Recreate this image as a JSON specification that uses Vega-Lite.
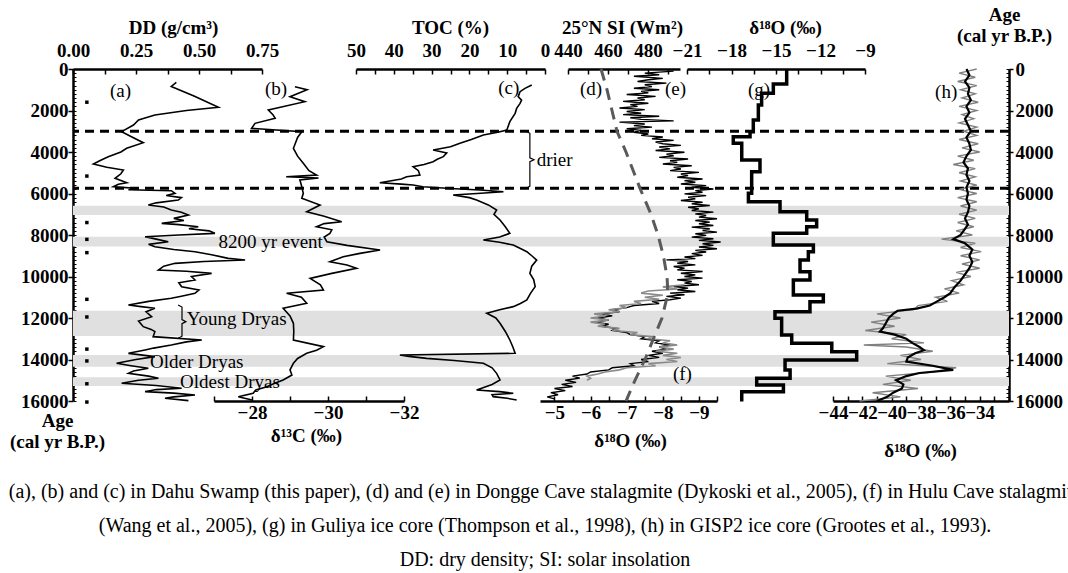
{
  "$schema": "https://vega.github.io/schema/vega-lite/v6.json",
  "width": 936,
  "height": 332,
  "autosize": {"type": "none"},
  "padding": {"left": 73, "top": 69, "right": 59, "bottom": 172},
  "background": "white",
  "title": {
    "text": [
      "(a), (b) and (c) in Dahu Swamp (this paper), (d) and (e) in Dongge Cave stalagmite (Dykoski et al., 2005), (f) in Hulu Cave stalagmite",
      "(Wang et al., 2005), (g) in Guliya ice core (Thompson et al., 1998), (h) in GISP2 ice core (Grootes et al., 1993).",
      "DD: dry density; SI: solar insolation"
    ],
    "orient": "bottom",
    "anchor": "middle",
    "frame": "group",
    "font": "Liberation Serif",
    "fontSize": 20,
    "fontWeight": "normal",
    "color": "black",
    "lineHeight": 34,
    "offset": 22,
    "dx": 4
  },
  "config": {
    "view": {"stroke": null},
    "axis": {
      "grid": false,
      "domainColor": "black",
      "domainWidth": 2.5,
      "tickColor": "black",
      "tickWidth": 1.5,
      "labelFont": "Liberation Serif",
      "labelFontSize": 19,
      "labelFontWeight": "bold",
      "labelColor": "black",
      "titleFont": "Liberation Serif",
      "titleFontSize": 19,
      "titleFontWeight": "bold",
      "titleColor": "black",
      "labelFlush": false,
      "labelOverlap": false,
      "labelBound": false
    },
    "text": {"font": "Liberation Serif", "fontSize": 19, "color": "black"}
  },
  "resolve": {
    "scale": {"x": "independent", "y": "shared"},
    "axis": {"x": "independent", "y": "independent"}
  },
  "datasets": {
    "bands": [
      {"start": 6590, "end": 7040},
      {"start": 8080, "end": 8560},
      {"start": 11650, "end": 12870},
      {"start": 13780, "end": 14350},
      {"start": 14860, "end": 15280}
    ],
    "events": [{"age": 3000}, {"age": 5750}],
    "dates": [
      {"age": 1600}, {"age": 5160}, {"age": 7400}, {"age": 8210}, {"age": 8850},
      {"age": 11100}, {"age": 11950}, {"age": 13500}, {"age": 14070}, {"age": 15170}, {"age": 16050}
    ],
    "dd": [
      {"age": 650, "v": 0.41}, {"age": 843, "v": 0.39}, {"age": 1300, "v": 0.48}, {"age": 1847, "v": 0.577},
      {"age": 2000, "v": 0.45}, {"age": 2218, "v": 0.325}, {"age": 2458, "v": 0.26}, {"age": 2700, "v": 0.24},
      {"age": 3020, "v": 0.193}, {"age": 3250, "v": 0.23}, {"age": 3550, "v": 0.279}, {"age": 3823, "v": 0.213},
      {"age": 4000, "v": 0.19}, {"age": 4225, "v": 0.14}, {"age": 4400, "v": 0.11}, {"age": 4578, "v": 0.081},
      {"age": 4739, "v": 0.134}, {"age": 4868, "v": 0.2}, {"age": 5050, "v": 0.19}, {"age": 5270, "v": 0.167},
      {"age": 5479, "v": 0.213}, {"age": 5550, "v": 0.18}, {"age": 5672, "v": 0.16}, {"age": 5752, "v": 0.253},
      {"age": 5820, "v": 0.22}, {"age": 5864, "v": 0.39}, {"age": 5993, "v": 0.405}, {"age": 6100, "v": 0.37},
      {"age": 6200, "v": 0.43}, {"age": 6314, "v": 0.418}, {"age": 6450, "v": 0.33}, {"age": 6555, "v": 0.299},
      {"age": 6650, "v": 0.36}, {"age": 6796, "v": 0.39}, {"age": 6900, "v": 0.43}, {"age": 7037, "v": 0.458},
      {"age": 7200, "v": 0.40}, {"age": 7300, "v": 0.44}, {"age": 7438, "v": 0.352}, {"age": 7500, "v": 0.42},
      {"age": 7599, "v": 0.497}, {"age": 7700, "v": 0.46}, {"age": 7800, "v": 0.54}, {"age": 7920, "v": 0.563},
      {"age": 8000, "v": 0.42}, {"age": 8081, "v": 0.286}, {"age": 8200, "v": 0.33}, {"age": 8322, "v": 0.378},
      {"age": 8450, "v": 0.30}, {"age": 8563, "v": 0.325}, {"age": 8700, "v": 0.40}, {"age": 8804, "v": 0.484},
      {"age": 8950, "v": 0.55}, {"age": 9125, "v": 0.616}, {"age": 9206, "v": 0.683}, {"age": 9280, "v": 0.52},
      {"age": 9366, "v": 0.405}, {"age": 9500, "v": 0.36}, {"age": 9687, "v": 0.339}, {"age": 9750, "v": 0.45},
      {"age": 9848, "v": 0.55}, {"age": 10000, "v": 0.47}, {"age": 10169, "v": 0.484}, {"age": 10300, "v": 0.42},
      {"age": 10490, "v": 0.431}, {"age": 10650, "v": 0.50}, {"age": 10811, "v": 0.484}, {"age": 10950, "v": 0.43},
      {"age": 11052, "v": 0.39}, {"age": 11200, "v": 0.30}, {"age": 11373, "v": 0.22}, {"age": 11450, "v": 0.27},
      {"age": 11534, "v": 0.325}, {"age": 11700, "v": 0.29}, {"age": 11935, "v": 0.312}, {"age": 12150, "v": 0.26},
      {"age": 12417, "v": 0.279}, {"age": 12550, "v": 0.31}, {"age": 12658, "v": 0.325}, {"age": 12899, "v": 0.318},
      {"age": 13060, "v": 0.511}, {"age": 13150, "v": 0.45}, {"age": 13301, "v": 0.39}, {"age": 13450, "v": 0.32},
      {"age": 13542, "v": 0.286}, {"age": 13703, "v": 0.22}, {"age": 13863, "v": 0.325}, {"age": 14000, "v": 0.25},
      {"age": 14184, "v": 0.173}, {"age": 14300, "v": 0.23}, {"age": 14425, "v": 0.299}, {"age": 14550, "v": 0.24},
      {"age": 14666, "v": 0.22}, {"age": 14800, "v": 0.30}, {"age": 14907, "v": 0.339}, {"age": 15000, "v": 0.26},
      {"age": 15148, "v": 0.193}, {"age": 15250, "v": 0.33}, {"age": 15389, "v": 0.431}, {"age": 15450, "v": 0.33},
      {"age": 15550, "v": 0.286}, {"age": 15620, "v": 0.40}, {"age": 15711, "v": 0.484}, {"age": 15800, "v": 0.40},
      {"age": 15871, "v": 0.365}, {"age": 15984, "v": 0.458}
    ],
    "c13": [
      {"age": 851, "v": -29.13}, {"age": 1000, "v": -29.45}, {"age": 1333, "v": -29.0}, {"age": 1574, "v": -29.39},
      {"age": 1976, "v": -28.43}, {"age": 2200, "v": -28.55}, {"age": 2378, "v": -28.61}, {"age": 2619, "v": -28.08},
      {"age": 2860, "v": -27.99}, {"age": 3020, "v": -29.31}, {"age": 3300, "v": -29.2}, {"age": 3823, "v": -29.09},
      {"age": 4200, "v": -29.2}, {"age": 4546, "v": -29.35}, {"age": 4900, "v": -29.5}, {"age": 5109, "v": -29.7},
      {"age": 5190, "v": -28.9}, {"age": 5250, "v": -29.75}, {"age": 5350, "v": -29.26}, {"age": 5600, "v": -29.3},
      {"age": 5993, "v": -29.35}, {"age": 6234, "v": -29.31}, {"age": 6555, "v": -29.79}, {"age": 6876, "v": -29.44},
      {"age": 7100, "v": -29.9}, {"age": 7358, "v": -30.36}, {"age": 7450, "v": -29.9}, {"age": 7599, "v": -29.7},
      {"age": 7750, "v": -30.1}, {"age": 7920, "v": -30.05}, {"age": 8100, "v": -29.9}, {"age": 8322, "v": -29.97},
      {"age": 8500, "v": -30.5}, {"age": 8724, "v": -31.37}, {"age": 8884, "v": -30.84}, {"age": 9050, "v": -30.4},
      {"age": 9286, "v": -30.05}, {"age": 9450, "v": -30.5}, {"age": 9607, "v": -30.75}, {"age": 9850, "v": -30.1},
      {"age": 10089, "v": -29.53}, {"age": 10400, "v": -29.8}, {"age": 10651, "v": -29.88}, {"age": 10811, "v": -28.91},
      {"age": 11000, "v": -29.3}, {"age": 11293, "v": -29.44}, {"age": 11534, "v": -28.82}, {"age": 11900, "v": -29.0},
      {"age": 12256, "v": -29.09}, {"age": 12650, "v": -29.1}, {"age": 13060, "v": -29.09}, {"age": 13381, "v": -29.88},
      {"age": 13550, "v": -29.7}, {"age": 13703, "v": -29.44}, {"age": 13950, "v": -29.2}, {"age": 14184, "v": -29.09},
      {"age": 14500, "v": -29.0}, {"age": 14750, "v": -29.05}, {"age": 14987, "v": -28.82}, {"age": 15150, "v": -28.6},
      {"age": 15310, "v": -28.39}, {"age": 15470, "v": -28.1}, {"age": 15630, "v": -28.03}, {"age": 15791, "v": -27.64},
      {"age": 15951, "v": -28.0}
    ],
    "toc": [
      {"age": 771, "v": 3.5}, {"age": 932, "v": 5.3}, {"age": 1092, "v": 6.6}, {"age": 1333, "v": 7.1},
      {"age": 1500, "v": 6.2}, {"age": 1654, "v": 6.6}, {"age": 1900, "v": 7.5}, {"age": 2136, "v": 7.9},
      {"age": 2538, "v": 9.3}, {"age": 2940, "v": 10.1}, {"age": 3050, "v": 12.5}, {"age": 3181, "v": 16.3},
      {"age": 3400, "v": 19.5}, {"age": 3582, "v": 22.5}, {"age": 3750, "v": 25}, {"age": 3903, "v": 29.6},
      {"age": 4050, "v": 26}, {"age": 4225, "v": 26.9}, {"age": 4350, "v": 28.5}, {"age": 4466, "v": 29.6},
      {"age": 4600, "v": 32}, {"age": 4707, "v": 34.9}, {"age": 4900, "v": 33.5}, {"age": 5109, "v": 33.1},
      {"age": 5190, "v": 36.6}, {"age": 5300, "v": 38}, {"age": 5479, "v": 43.7}, {"age": 5550, "v": 38},
      {"age": 5591, "v": 34.9}, {"age": 5672, "v": 32.3}, {"age": 5760, "v": 25}, {"age": 5832, "v": 17.2},
      {"age": 5912, "v": 11.0}, {"age": 6000, "v": 18}, {"age": 6073, "v": 24.3}, {"age": 6200, "v": 20},
      {"age": 6314, "v": 18.1}, {"age": 6550, "v": 15}, {"age": 6796, "v": 12.8}, {"age": 7000, "v": 13.5},
      {"age": 7278, "v": 11.9}, {"age": 7600, "v": 10.5}, {"age": 7920, "v": 9.3}, {"age": 8100, "v": 12},
      {"age": 8242, "v": 16.3}, {"age": 8350, "v": 12}, {"age": 8483, "v": 8.4}, {"age": 8650, "v": 6.5},
      {"age": 8804, "v": 4.8}, {"age": 9000, "v": 3.5}, {"age": 9206, "v": 2.2}, {"age": 9500, "v": 3.5},
      {"age": 9848, "v": 4.0}, {"age": 10150, "v": 3.0}, {"age": 10490, "v": 2.6}, {"age": 10800, "v": 3.8},
      {"age": 11132, "v": 4.8}, {"age": 11300, "v": 6.5}, {"age": 11453, "v": 8.4}, {"age": 11600, "v": 12},
      {"age": 11775, "v": 15.4}, {"age": 12000, "v": 13}, {"age": 12256, "v": 11.9}, {"age": 12650, "v": 10.5},
      {"age": 13060, "v": 9.3}, {"age": 13400, "v": 8.5}, {"age": 13703, "v": 7.9}, {"age": 13783, "v": 38.4},
      {"age": 13850, "v": 36}, {"age": 13944, "v": 31.3}, {"age": 14050, "v": 24}, {"age": 14184, "v": 16.3},
      {"age": 14400, "v": 14}, {"age": 14666, "v": 12.8}, {"age": 14987, "v": 11.9}, {"age": 15200, "v": 14},
      {"age": 15470, "v": 18.1}, {"age": 15550, "v": 12}, {"age": 15630, "v": 8.4}, {"age": 15700, "v": 14},
      {"age": 15791, "v": 13.7}, {"age": 15870, "v": 10}, {"age": 15951, "v": 7.5}
    ],
    "dongge": [
      {"age": 100, "v": -8.3}, {"age": 200, "v": -7.5}, {"age": 280, "v": -7.9}, {"age": 350, "v": -7.2},
      {"age": 450, "v": -8.0}, {"age": 520, "v": -7.6}, {"age": 600, "v": -7.3}, {"age": 680, "v": -8.1},
      {"age": 760, "v": -7.5}, {"age": 850, "v": -7.7}, {"age": 930, "v": -7.2}, {"age": 1000, "v": -7.9},
      {"age": 1080, "v": -7.4}, {"age": 1150, "v": -7.6}, {"age": 1230, "v": -7.0}, {"age": 1320, "v": -7.8},
      {"age": 1400, "v": -7.3}, {"age": 1480, "v": -7.5}, {"age": 1560, "v": -6.9}, {"age": 1650, "v": -7.6},
      {"age": 1720, "v": -7.1}, {"age": 1800, "v": -7.3}, {"age": 1880, "v": -6.8}, {"age": 1960, "v": -7.5},
      {"age": 2050, "v": -7.0}, {"age": 2130, "v": -7.4}, {"age": 2200, "v": -6.9}, {"age": 2280, "v": -7.9},
      {"age": 2350, "v": -7.1}, {"age": 2430, "v": -7.4}, {"age": 2500, "v": -8.3}, {"age": 2560, "v": -6.8},
      {"age": 2650, "v": -7.5}, {"age": 2730, "v": -7.2}, {"age": 2800, "v": -7.7}, {"age": 2880, "v": -7.0},
      {"age": 2960, "v": -7.4}, {"age": 3050, "v": -7.2}, {"age": 3130, "v": -7.6}, {"age": 3200, "v": -7.4},
      {"age": 3280, "v": -8.0}, {"age": 3360, "v": -7.7}, {"age": 3440, "v": -8.3}, {"age": 3520, "v": -7.8},
      {"age": 3600, "v": -8.0}, {"age": 3680, "v": -8.5}, {"age": 3760, "v": -7.9}, {"age": 3850, "v": -8.2},
      {"age": 3930, "v": -7.8}, {"age": 4010, "v": -8.6}, {"age": 4100, "v": -8.1}, {"age": 4180, "v": -8.3},
      {"age": 4260, "v": -7.9}, {"age": 4340, "v": -8.7}, {"age": 4420, "v": -8.2}, {"age": 4500, "v": -8.4},
      {"age": 4580, "v": -8.0}, {"age": 4660, "v": -8.8}, {"age": 4740, "v": -8.3}, {"age": 4820, "v": -8.5},
      {"age": 4900, "v": -8.2}, {"age": 4980, "v": -9.0}, {"age": 5060, "v": -8.5}, {"age": 5140, "v": -8.7},
      {"age": 5220, "v": -8.4}, {"age": 5300, "v": -9.1}, {"age": 5380, "v": -8.6}, {"age": 5460, "v": -8.9},
      {"age": 5540, "v": -8.5}, {"age": 5620, "v": -9.2}, {"age": 5700, "v": -8.8}, {"age": 5780, "v": -9.4},
      {"age": 5860, "v": -8.9}, {"age": 5940, "v": -9.1}, {"age": 6020, "v": -8.6}, {"age": 6100, "v": -9.2},
      {"age": 6180, "v": -8.7}, {"age": 6260, "v": -8.9}, {"age": 6340, "v": -8.5}, {"age": 6420, "v": -9.1},
      {"age": 6500, "v": -8.8}, {"age": 6580, "v": -9.3}, {"age": 6660, "v": -8.7}, {"age": 6740, "v": -9.0},
      {"age": 6820, "v": -8.8}, {"age": 6900, "v": -9.4}, {"age": 6980, "v": -8.9}, {"age": 7060, "v": -9.2},
      {"age": 7140, "v": -9.0}, {"age": 7220, "v": -9.5}, {"age": 7300, "v": -8.9}, {"age": 7380, "v": -9.3},
      {"age": 7460, "v": -9.0}, {"age": 7540, "v": -9.4}, {"age": 7620, "v": -8.8}, {"age": 7700, "v": -9.3},
      {"age": 7780, "v": -9.1}, {"age": 7860, "v": -9.5}, {"age": 7940, "v": -8.9}, {"age": 8020, "v": -9.2},
      {"age": 8100, "v": -8.8}, {"age": 8180, "v": -9.4}, {"age": 8260, "v": -9.0}, {"age": 8340, "v": -9.6},
      {"age": 8420, "v": -9.1}, {"age": 8500, "v": -9.4}, {"age": 8580, "v": -9.0}, {"age": 8660, "v": -9.5},
      {"age": 8740, "v": -8.9}, {"age": 8820, "v": -9.2}, {"age": 8900, "v": -8.8}, {"age": 8980, "v": -9.1},
      {"age": 9060, "v": -8.6}, {"age": 9140, "v": -8.9}, {"age": 9200, "v": -8.1}, {"age": 9280, "v": -8.7},
      {"age": 9360, "v": -8.4}, {"age": 9440, "v": -8.9}, {"age": 9520, "v": -8.3}, {"age": 9600, "v": -8.6},
      {"age": 9680, "v": -8.4}, {"age": 9760, "v": -9.1}, {"age": 9840, "v": -8.5}, {"age": 9920, "v": -8.9},
      {"age": 10000, "v": -8.6}, {"age": 10080, "v": -9.1}, {"age": 10160, "v": -8.4}, {"age": 10240, "v": -8.8},
      {"age": 10320, "v": -8.6}, {"age": 10400, "v": -9.0}, {"age": 10480, "v": -8.3}, {"age": 10560, "v": -8.7},
      {"age": 10640, "v": -8.4}, {"age": 10720, "v": -8.9}, {"age": 10800, "v": -8.2}, {"age": 10880, "v": -8.6},
      {"age": 10960, "v": -8.1}, {"age": 11040, "v": -8.5}, {"age": 11120, "v": -8.2}, {"age": 11200, "v": -7.7},
      {"age": 11300, "v": -7.9}, {"age": 11400, "v": -7.2}, {"age": 11500, "v": -7.0}, {"age": 11600, "v": -6.6},
      {"age": 11700, "v": -6.8}, {"age": 11800, "v": -6.3}, {"age": 11900, "v": -6.6}, {"age": 12000, "v": -6.2},
      {"age": 12100, "v": -6.5}, {"age": 12200, "v": -6.1}, {"age": 12300, "v": -6.5}, {"age": 12400, "v": -6.3},
      {"age": 12500, "v": -6.7}, {"age": 12600, "v": -6.6}, {"age": 12700, "v": -7.0}, {"age": 12800, "v": -7.1},
      {"age": 12900, "v": -7.5}, {"age": 13000, "v": -7.4}, {"age": 13100, "v": -7.9}, {"age": 13200, "v": -7.8},
      {"age": 13300, "v": -8.2}, {"age": 13400, "v": -7.9}, {"age": 13500, "v": -8.1}, {"age": 13600, "v": -7.7},
      {"age": 13700, "v": -8.0}, {"age": 13800, "v": -7.6}, {"age": 13900, "v": -7.9}, {"age": 14000, "v": -7.4},
      {"age": 14100, "v": -7.6}, {"age": 14200, "v": -7.1}, {"age": 14300, "v": -7.2}, {"age": 14400, "v": -6.6},
      {"age": 14500, "v": -6.5}, {"age": 14600, "v": -6.0}, {"age": 14700, "v": -5.9}, {"age": 14800, "v": -5.5},
      {"age": 14900, "v": -5.7}, {"age": 15000, "v": -5.3}, {"age": 15100, "v": -5.6}, {"age": 15200, "v": -5.2},
      {"age": 15300, "v": -5.5}, {"age": 15400, "v": -5.0}, {"age": 15500, "v": -5.3}, {"age": 15600, "v": -4.9},
      {"age": 15700, "v": -5.1}, {"age": 15800, "v": -4.8}, {"age": 15900, "v": -5.0}
    ],
    "hulu": [
      {"age": 10400, "v": -8.6}, {"age": 10500, "v": -8.0}, {"age": 10600, "v": -8.4}, {"age": 10700, "v": -7.6},
      {"age": 10800, "v": -7.4}, {"age": 10900, "v": -8.0}, {"age": 11000, "v": -7.5}, {"age": 11100, "v": -7.9},
      {"age": 11200, "v": -7.2}, {"age": 11300, "v": -7.4}, {"age": 11400, "v": -6.8}, {"age": 11500, "v": -7.0},
      {"age": 11600, "v": -6.5}, {"age": 11700, "v": -6.8}, {"age": 11800, "v": -6.1}, {"age": 11900, "v": -6.4},
      {"age": 12000, "v": -6.0}, {"age": 12100, "v": -6.5}, {"age": 12200, "v": -6.0}, {"age": 12300, "v": -6.4},
      {"age": 12400, "v": -6.2}, {"age": 12500, "v": -6.8}, {"age": 12600, "v": -6.6}, {"age": 12700, "v": -7.3},
      {"age": 12800, "v": -7.1}, {"age": 12900, "v": -7.7}, {"age": 13000, "v": -7.6}, {"age": 13100, "v": -8.2},
      {"age": 13200, "v": -8.0}, {"age": 13300, "v": -8.4}, {"age": 13400, "v": -7.9}, {"age": 13500, "v": -8.3},
      {"age": 13600, "v": -7.8}, {"age": 13700, "v": -8.4}, {"age": 13800, "v": -8.0}, {"age": 13900, "v": -8.5},
      {"age": 14000, "v": -8.1}, {"age": 14100, "v": -8.4}, {"age": 14200, "v": -7.6}, {"age": 14300, "v": -7.8},
      {"age": 14400, "v": -7.0}, {"age": 14500, "v": -6.8}, {"age": 14600, "v": -6.4}, {"age": 14700, "v": -6.2},
      {"age": 14800, "v": -5.9}, {"age": 14900, "v": -6.0}, {"age": 15000, "v": -5.9}
    ],
    "si": [
      {"age": 0, "v": 456.5}, {"age": 1000, "v": 459.5}, {"age": 2000, "v": 462}, {"age": 3000, "v": 464.5},
      {"age": 4000, "v": 469}, {"age": 5000, "v": 473}, {"age": 5750, "v": 476}, {"age": 7000, "v": 481.5},
      {"age": 8000, "v": 485}, {"age": 9000, "v": 487.7}, {"age": 10000, "v": 489.5}, {"age": 10500, "v": 489.8},
      {"age": 11000, "v": 489.5}, {"age": 12000, "v": 487}, {"age": 13000, "v": 482.7}, {"age": 14000, "v": 478.5},
      {"age": 14500, "v": 476}, {"age": 15000, "v": 473.5}, {"age": 16000, "v": 469}
    ],
    "guliya": [
      {"age": 0, "v": -14.28}, {"age": 723, "v": -15.18}, {"age": 1173, "v": -15.97}, {"age": 1735, "v": -16.19},
      {"age": 2458, "v": -16.53}, {"age": 3020, "v": -16.75}, {"age": 3261, "v": -17.88}, {"age": 3582, "v": -17.31},
      {"age": 4385, "v": -16.08}, {"age": 4948, "v": -16.64}, {"age": 5993, "v": -16.86}, {"age": 6394, "v": -14.73},
      {"age": 6876, "v": -12.93}, {"age": 7278, "v": -12.26}, {"age": 7599, "v": -12.93}, {"age": 7920, "v": -15.18},
      {"age": 8483, "v": -12.48}, {"age": 8804, "v": -12.82}, {"age": 9206, "v": -13.38}, {"age": 9768, "v": -12.71},
      {"age": 10169, "v": -13.83}, {"age": 10892, "v": -11.81}, {"age": 11213, "v": -12.71}, {"age": 11695, "v": -15.07},
      {"age": 12016, "v": -14.62}, {"age": 12819, "v": -13.94}, {"age": 13220, "v": -11.24}, {"age": 13622, "v": -9.56},
      {"age": 14024, "v": -14.39}, {"age": 14505, "v": -14.05}, {"age": 14907, "v": -16.3}, {"age": 15229, "v": -14.5},
      {"age": 15550, "v": -17.31}, {"age": 16030, "v": -17.31}
    ],
    "gisp_raw": [
      {"age": 0, "v": -34.2}, {"age": 200, "v": -35.4}, {"age": 400, "v": -34.3}, {"age": 600, "v": -35.5},
      {"age": 800, "v": -34.2}, {"age": 1000, "v": -35.3}, {"age": 1200, "v": -34.3}, {"age": 1400, "v": -35.2},
      {"age": 1600, "v": -34.1}, {"age": 1800, "v": -35.4}, {"age": 2000, "v": -34.2}, {"age": 2200, "v": -35.2},
      {"age": 2400, "v": -34.4}, {"age": 2600, "v": -35.4}, {"age": 2800, "v": -34.2}, {"age": 3000, "v": -35.1},
      {"age": 3200, "v": -34.2}, {"age": 3400, "v": -35.4}, {"age": 3600, "v": -34.1}, {"age": 3800, "v": -35.2},
      {"age": 4000, "v": -34.0}, {"age": 4200, "v": -35.5}, {"age": 4400, "v": -34.4}, {"age": 4600, "v": -35.8},
      {"age": 4800, "v": -34.3}, {"age": 5000, "v": -35.4}, {"age": 5200, "v": -34.3}, {"age": 5400, "v": -35.3},
      {"age": 5600, "v": -34.2}, {"age": 5800, "v": -35.4}, {"age": 6000, "v": -34.2}, {"age": 6200, "v": -35.5},
      {"age": 6400, "v": -34.2}, {"age": 6600, "v": -35.3}, {"age": 6800, "v": -34.2}, {"age": 7000, "v": -35.4},
      {"age": 7200, "v": -34.3}, {"age": 7400, "v": -35.5}, {"age": 7600, "v": -34.4}, {"age": 7800, "v": -35.6},
      {"age": 8000, "v": -34.5}, {"age": 8200, "v": -36.6}, {"age": 8400, "v": -34.3}, {"age": 8600, "v": -35.3},
      {"age": 8800, "v": -33.9}, {"age": 9000, "v": -35.3}, {"age": 9200, "v": -34.0}, {"age": 9400, "v": -35.2},
      {"age": 9600, "v": -34.0}, {"age": 9800, "v": -35.6}, {"age": 10000, "v": -34.6}, {"age": 10200, "v": -35.9},
      {"age": 10400, "v": -35.1}, {"age": 10600, "v": -36.4}, {"age": 10800, "v": -35.4}, {"age": 11000, "v": -37.0},
      {"age": 11200, "v": -36.2}, {"age": 11400, "v": -38.2}, {"age": 11600, "v": -38.5}, {"age": 11800, "v": -41.0},
      {"age": 12000, "v": -39.4}, {"age": 12200, "v": -41.4}, {"age": 12400, "v": -39.8}, {"age": 12600, "v": -41.8},
      {"age": 12800, "v": -39.0}, {"age": 13000, "v": -40.0}, {"age": 13200, "v": -37.8}, {"age": 13300, "v": -41.9},
      {"age": 13400, "v": -39.0}, {"age": 13600, "v": -37.2}, {"age": 13800, "v": -39.4}, {"age": 14000, "v": -38.0},
      {"age": 14200, "v": -40.3}, {"age": 14400, "v": -35.6}, {"age": 14600, "v": -37.2}, {"age": 14800, "v": -40.4},
      {"age": 15000, "v": -38.7}, {"age": 15200, "v": -40.6}, {"age": 15400, "v": -38.2}, {"age": 15600, "v": -41.3},
      {"age": 15800, "v": -39.4}, {"age": 16000, "v": -42.2}
    ],
    "gisp": [
      {"age": 0, "v": -34.9}, {"age": 300, "v": -34.7}, {"age": 600, "v": -35.0}, {"age": 900, "v": -34.7},
      {"age": 1200, "v": -34.8}, {"age": 1500, "v": -34.6}, {"age": 1800, "v": -34.9}, {"age": 2100, "v": -34.7},
      {"age": 2400, "v": -35.0}, {"age": 2700, "v": -34.8}, {"age": 3000, "v": -34.6}, {"age": 3300, "v": -34.9},
      {"age": 3600, "v": -34.7}, {"age": 3900, "v": -34.6}, {"age": 4200, "v": -34.9}, {"age": 4500, "v": -35.1},
      {"age": 4800, "v": -34.8}, {"age": 5100, "v": -34.9}, {"age": 5400, "v": -34.7}, {"age": 5700, "v": -34.9},
      {"age": 6000, "v": -34.8}, {"age": 6300, "v": -34.9}, {"age": 6600, "v": -34.7}, {"age": 6900, "v": -34.8},
      {"age": 7200, "v": -35.0}, {"age": 7500, "v": -34.8}, {"age": 7800, "v": -35.1}, {"age": 8000, "v": -35.3},
      {"age": 8200, "v": -35.8}, {"age": 8400, "v": -35.0}, {"age": 8700, "v": -34.5}, {"age": 9000, "v": -34.7},
      {"age": 9300, "v": -34.5}, {"age": 9600, "v": -34.7}, {"age": 9900, "v": -35.0}, {"age": 10200, "v": -35.3},
      {"age": 10500, "v": -35.7}, {"age": 10800, "v": -36.0}, {"age": 11000, "v": -36.4}, {"age": 11200, "v": -36.9},
      {"age": 11400, "v": -37.4}, {"age": 11550, "v": -38.3}, {"age": 11650, "v": -39.6}, {"age": 11800, "v": -39.9},
      {"age": 12000, "v": -40.2}, {"age": 12250, "v": -40.4}, {"age": 12500, "v": -40.6}, {"age": 12650, "v": -40.8},
      {"age": 12800, "v": -39.8}, {"age": 13000, "v": -39.0}, {"age": 13200, "v": -38.6}, {"age": 13400, "v": -38.1},
      {"age": 13550, "v": -37.8}, {"age": 13700, "v": -38.4}, {"age": 13900, "v": -38.9}, {"age": 14100, "v": -39.0},
      {"age": 14300, "v": -37.2}, {"age": 14500, "v": -35.8}, {"age": 14650, "v": -38.1}, {"age": 14800, "v": -39.0},
      {"age": 15000, "v": -39.7}, {"age": 15200, "v": -39.2}, {"age": 15400, "v": -39.3}, {"age": 15600, "v": -39.9},
      {"age": 15800, "v": -40.3}, {"age": 16000, "v": -41.0}
    ],
    "brace_yd": [
      {"age": 11370, "v": 0.417}, {"age": 11470, "v": 0.4325}, {"age": 12080, "v": 0.4325}, {"age": 12175, "v": 0.448},
      {"age": 12270, "v": 0.4325}, {"age": 12880, "v": 0.4325}, {"age": 12980, "v": 0.417}
    ],
    "brace_drier": [
      {"age": 3000, "v": 5.0}, {"age": 3100, "v": 4.0}, {"age": 4280, "v": 4.0}, {"age": 4375, "v": 2.9},
      {"age": 4470, "v": 4.0}, {"age": 5650, "v": 4.0}, {"age": 5750, "v": 5.0}
    ],
    "ann_dd": [
      {"t": "(a)", "age": 1052, "v": 0.147},
      {"t": "8200 yr event", "age": 8322, "v": 0.577},
      {"t": "Young Dryas", "age": 12048, "v": 0.451},
      {"t": "Older Dryas", "age": 14104, "v": 0.306},
      {"t": "Oldest Dryas", "age": 15068, "v": 0.425}
    ],
    "ann_c13": [{"t": "(b)", "age": 973, "v": -28.34}],
    "ann_toc": [{"t": "(c)", "age": 932, "v": 12.4}, {"t": "drier", "age": 4385, "v": 2.2}],
    "ann_si": [{"t": "(d)", "age": 973, "v": 446}],
    "ann_o18": [{"t": "(e)", "age": 973, "v": -8.06}, {"t": "(f)", "age": 14700, "v": -8.28}],
    "ann_g": [{"t": "(g)", "age": 1012, "v": -16.89}],
    "ann_h": [{"t": "(h)", "age": 1093, "v": -37.04}]
  },
  "layer": [
    {
      "data": {"name": "bands"},
      "mark": {"type": "rect", "color": "#e0e0e0"},
      "encoding": {
        "y": {"field": "start", "type": "quantitative", "scale": {"domain": [0, 16000], "reverse": true, "nice": false, "zero": false}, "axis": null},
        "y2": {"field": "end"}
      }
    },
    {
      "data": {"name": "events"},
      "mark": {"type": "rule", "color": "black", "strokeWidth": 3, "strokeDash": [9, 6]},
      "encoding": {
        "y": {"field": "age", "type": "quantitative", "scale": {"domain": [0, 16000], "reverse": true, "nice": false, "zero": false}, "axis": null}
      }
    },
    {
      "data": {"name": "dd"},
      "mark": {"type": "line", "color": "black", "strokeWidth": 1.6},
      "encoding": {
        "x": {"field": "v", "type": "quantitative", "scale": {"domain": [0, 0.75], "range": [0, 189], "nice": false, "zero": false},
          "axis": {"orient": "top", "values": [0, 0.125, 0.25, 0.375, 0.5, 0.625, 0.75], "labelExpr": "datum.value % 0.25 == 0 ? format(datum.value, '.2f') : ''",
            "tickSize": -5, "labelPadding": 14, "title": "DD (g/cm³)", "titleX": 100, "titleY": -36, "titleAlign": "center", "titleBaseline": "alphabetic"}},
        "y": {"field": "age", "type": "quantitative", "scale": {"domain": [0, 16000], "reverse": true, "nice": false, "zero": false},
          "axis": {"orient": "left", "values": [0, 2000, 4000, 6000, 8000, 10000, 12000, 14000, 16000], "format": "d", "tickSize": 5, "labelPadding": 0,
            "title": ["Age", "(cal yr B.P.)"], "titleAngle": 0, "titleX": -16, "titleY": 342, "titleAlign": "center", "titleBaseline": "top", "titleLineHeight": 21}},
        "order": {"field": "age", "type": "quantitative"}
      }
    },
    {
      "data": {"name": "dates"},
      "mark": {"type": "square", "color": "black", "filled": true, "opacity": 1, "size": 12},
      "encoding": {
        "x": {"datum": 0.055, "type": "quantitative", "scale": {"domain": [0, 0.75], "range": [0, 189], "nice": false, "zero": false}, "axis": null},
        "y": {"field": "age", "type": "quantitative", "scale": {"domain": [0, 16000], "reverse": true, "nice": false, "zero": false},
          "axis": {"orient": "left", "values": [0,200,400,600,800,1000,1200,1400,1600,1800,2000,2200,2400,2600,2800,3000,3200,3400,3600,3800,4000,4200,4400,4600,4800,5000,5200,5400,5600,5800,6000,6200,6400,6600,6800,7000,7200,7400,7600,7800,8000,8200,8400,8600,8800,9000,9200,9400,9600,9800,10000,10200,10400,10600,10800,11000,11200,11400,11600,11800,12000,12200,12400,12600,12800,13000,13200,13400,13600,13800,14000,14200,14400,14600,14800,15000,15200,15400,15600,15800,16000],
            "labels": false, "domain": false, "tickSize": -3, "tickWidth": 1, "title": null}}
      }
    },
    {
      "data": {"name": "c13"},
      "mark": {"type": "line", "color": "black", "strokeWidth": 1.6},
      "encoding": {
        "x": {"field": "v", "type": "quantitative", "scale": {"domain": [-27, -32], "range": [141, 331], "nice": false, "zero": false},
          "axis": {"orient": "bottom", "values": [-27, -28, -29, -30, -31, -32], "labelExpr": "datum.value % 2 == 0 ? format(datum.value, 'd') : ''",
            "tickSize": -5, "labelPadding": 7, "title": "δ¹³C (‰)", "titleX": 233, "titleY": 40, "titleAlign": "center", "titleBaseline": "alphabetic"}},
        "y": {"field": "age", "type": "quantitative", "scale": {"domain": [0, 16000], "reverse": true, "nice": false, "zero": false}, "axis": null},
        "order": {"field": "age", "type": "quantitative"}
      }
    },
    {
      "data": {"name": "toc"},
      "mark": {"type": "line", "color": "black", "strokeWidth": 1.6},
      "encoding": {
        "x": {"field": "v", "type": "quantitative", "scale": {"domain": [50, 0], "range": [283, 472], "nice": false, "zero": false},
          "axis": {"orient": "top", "values": [50, 45, 40, 35, 30, 25, 20, 15, 10, 5, 0], "labelExpr": "datum.value % 10 == 0 ? format(datum.value, 'd') : ''",
            "tickSize": -5, "labelPadding": 14, "title": "TOC (%)", "titleX": 377, "titleY": -36, "titleAlign": "center", "titleBaseline": "alphabetic"}},
        "y": {"field": "age", "type": "quantitative", "scale": {"domain": [0, 16000], "reverse": true, "nice": false, "zero": false}, "axis": null},
        "order": {"field": "age", "type": "quantitative"}
      }
    },
    {
      "data": {"name": "dongge"},
      "mark": {"type": "line", "color": "black", "strokeWidth": 1.4},
      "encoding": {
        "x": {"field": "v", "type": "quantitative", "scale": {"domain": [-4.6, -9.5], "range": [467, 644], "nice": false, "zero": false},
          "axis": {"orient": "bottom", "values": [-5, -5.5, -6, -6.5, -7, -7.5, -8, -8.5, -9, -9.5], "labelExpr": "datum.value % 1 == 0 ? format(datum.value, 'd') : ''",
            "tickSize": -5, "labelPadding": 7, "title": "δ¹⁸O (‰)", "titleX": 557, "titleY": 45, "titleAlign": "center", "titleBaseline": "alphabetic"}},
        "y": {"field": "age", "type": "quantitative", "scale": {"domain": [0, 16000], "reverse": true, "nice": false, "zero": false}, "axis": null},
        "order": {"field": "age", "type": "quantitative"}
      }
    },
    {
      "data": {"name": "hulu"},
      "mark": {"type": "line", "color": "#8a8a8a", "strokeWidth": 1.6},
      "encoding": {
        "x": {"field": "v", "type": "quantitative", "scale": {"domain": [-4.6, -9.5], "range": [467, 644], "nice": false, "zero": false}, "axis": null},
        "y": {"field": "age", "type": "quantitative", "scale": {"domain": [0, 16000], "reverse": true, "nice": false, "zero": false}, "axis": null},
        "order": {"field": "age", "type": "quantitative"}
      }
    },
    {
      "data": {"name": "si"},
      "mark": {"type": "line", "color": "#5a5a5a", "strokeWidth": 3, "strokeDash": [12, 8]},
      "encoding": {
        "x": {"field": "v", "type": "quantitative", "scale": {"domain": [440, 496], "range": [495, 607], "nice": false, "zero": false},
          "axis": {"orient": "top", "values": [440, 450, 460, 470, 480, 490], "labelExpr": "datum.value % 20 == 0 ? format(datum.value, 'd') : ''",
            "tickSize": -5, "labelPadding": 14, "title": "25°N  SI (Wm²)", "titleX": 549, "titleY": -36, "titleAlign": "center", "titleBaseline": "alphabetic"}},
        "y": {"field": "age", "type": "quantitative", "scale": {"domain": [0, 16000], "reverse": true, "nice": false, "zero": false}, "axis": null},
        "order": {"field": "age", "type": "quantitative"}
      }
    },
    {
      "data": {"name": "guliya"},
      "mark": {"type": "line", "color": "black", "strokeWidth": 3.5, "interpolate": "step-before"},
      "encoding": {
        "x": {"field": "v", "type": "quantitative", "scale": {"domain": [-21, -9], "range": [614, 792], "nice": false, "zero": false},
          "axis": {"orient": "top", "values": [-21, -19.5, -18, -16.5, -15, -13.5, -12, -10.5, -9], "labelExpr": "datum.value % 3 == 0 ? format(datum.value, 'd') : ''",
            "tickSize": -5, "labelPadding": 14, "title": "δ¹⁸O (‰)", "titleX": 712, "titleY": -36, "titleAlign": "center", "titleBaseline": "alphabetic"}},
        "y": {"field": "age", "type": "quantitative", "scale": {"domain": [0, 16000], "reverse": true, "nice": false, "zero": false}, "axis": null},
        "order": {"field": "age", "type": "quantitative"}
      }
    },
    {
      "data": {"name": "gisp_raw"},
      "mark": {"type": "line", "color": "#808080", "strokeWidth": 1.4},
      "encoding": {
        "x": {"field": "v", "type": "quantitative", "scale": {"domain": [-44, -32], "range": [760, 936], "nice": false, "zero": false}, "axis": null},
        "y": {"field": "age", "type": "quantitative", "scale": {"domain": [0, 16000], "reverse": true, "nice": false, "zero": false},
          "axis": {"orient": "right", "values": [0,200,400,600,800,1000,1200,1400,1600,1800,2000,2200,2400,2600,2800,3000,3200,3400,3600,3800,4000,4200,4400,4600,4800,5000,5200,5400,5600,5800,6000,6200,6400,6600,6800,7000,7200,7400,7600,7800,8000,8200,8400,8600,8800,9000,9200,9400,9600,9800,10000,10200,10400,10600,10800,11000,11200,11400,11600,11800,12000,12200,12400,12600,12800,13000,13200,13400,13600,13800,14000,14200,14400,14600,14800,15000,15200,15400,15600,15800,16000],
            "labels": false, "domain": false, "tickSize": -3, "tickWidth": 1, "title": null}},
        "order": {"field": "age", "type": "quantitative"}
      }
    },
    {
      "data": {"name": "gisp"},
      "mark": {"type": "line", "color": "black", "strokeWidth": 2.2},
      "encoding": {
        "x": {"field": "v", "type": "quantitative", "scale": {"domain": [-44, -32], "range": [760, 936], "nice": false, "zero": false},
          "axis": {"orient": "bottom", "values": [-44, -43, -42, -41, -40, -39, -38, -37, -36, -35, -34, -33, -32], "labelExpr": "datum.value % 2 == 0 && datum.value < -33 ? format(datum.value, 'd') : ''",
            "tickSize": -5, "labelPadding": 7, "title": "δ¹⁸O (‰)", "titleX": 847, "titleY": 55, "titleAlign": "center", "titleBaseline": "alphabetic"}},
        "y": {"field": "age", "type": "quantitative", "scale": {"domain": [0, 16000], "reverse": true, "nice": false, "zero": false},
          "axis": {"orient": "right", "values": [0, 2000, 4000, 6000, 8000, 10000, 12000, 14000, 16000], "format": "d", "tickSize": 4, "labelPadding": 2,
            "title": ["Age", "(cal yr B.P.)"], "titleAngle": 0, "titleX": -5, "titleY": -64, "titleAlign": "center", "titleBaseline": "top", "titleLineHeight": 21}},
        "order": {"field": "age", "type": "quantitative"}
      }
    },
    {
      "data": {"name": "brace_yd"},
      "mark": {"type": "line", "color": "black", "strokeWidth": 1.2},
      "encoding": {
        "x": {"field": "v", "type": "quantitative", "scale": {"domain": [0, 0.75], "range": [0, 189], "nice": false, "zero": false}, "axis": null},
        "y": {"field": "age", "type": "quantitative", "scale": {"domain": [0, 16000], "reverse": true, "nice": false, "zero": false}, "axis": null},
        "order": {"field": "age", "type": "quantitative"}
      }
    },
    {
      "data": {"name": "brace_drier"},
      "mark": {"type": "line", "color": "black", "strokeWidth": 1.2},
      "encoding": {
        "x": {"field": "v", "type": "quantitative", "scale": {"domain": [50, 0], "range": [283, 472], "nice": false, "zero": false}, "axis": null},
        "y": {"field": "age", "type": "quantitative", "scale": {"domain": [0, 16000], "reverse": true, "nice": false, "zero": false}, "axis": null},
        "order": {"field": "age", "type": "quantitative"}
      }
    },
    {
      "data": {"name": "ann_dd"},
      "mark": {"type": "text", "align": "left", "baseline": "middle", "font": "Liberation Serif", "fontSize": 19},
      "encoding": {
        "x": {"field": "v", "type": "quantitative", "scale": {"domain": [0, 0.75], "range": [0, 189], "nice": false, "zero": false}, "axis": null},
        "y": {"field": "age", "type": "quantitative", "scale": {"domain": [0, 16000], "reverse": true, "nice": false, "zero": false}, "axis": null},
        "text": {"field": "t"}
      }
    },
    {
      "data": {"name": "ann_c13"},
      "mark": {"type": "text", "align": "left", "baseline": "middle", "font": "Liberation Serif", "fontSize": 19},
      "encoding": {
        "x": {"field": "v", "type": "quantitative", "scale": {"domain": [-27, -32], "range": [141, 331], "nice": false, "zero": false}, "axis": null},
        "y": {"field": "age", "type": "quantitative", "scale": {"domain": [0, 16000], "reverse": true, "nice": false, "zero": false}, "axis": null},
        "text": {"field": "t"}
      }
    },
    {
      "data": {"name": "ann_toc"},
      "mark": {"type": "text", "align": "left", "baseline": "middle", "font": "Liberation Serif", "fontSize": 19},
      "encoding": {
        "x": {"field": "v", "type": "quantitative", "scale": {"domain": [50, 0], "range": [283, 472], "nice": false, "zero": false}, "axis": null},
        "y": {"field": "age", "type": "quantitative", "scale": {"domain": [0, 16000], "reverse": true, "nice": false, "zero": false}, "axis": null},
        "text": {"field": "t"}
      }
    },
    {
      "data": {"name": "ann_si"},
      "mark": {"type": "text", "align": "left", "baseline": "middle", "font": "Liberation Serif", "fontSize": 19},
      "encoding": {
        "x": {"field": "v", "type": "quantitative", "scale": {"domain": [440, 496], "range": [495, 607], "nice": false, "zero": false}, "axis": null},
        "y": {"field": "age", "type": "quantitative", "scale": {"domain": [0, 16000], "reverse": true, "nice": false, "zero": false}, "axis": null},
        "text": {"field": "t"}
      }
    },
    {
      "data": {"name": "ann_o18"},
      "mark": {"type": "text", "align": "left", "baseline": "middle", "font": "Liberation Serif", "fontSize": 19},
      "encoding": {
        "x": {"field": "v", "type": "quantitative", "scale": {"domain": [-4.6, -9.5], "range": [467, 644], "nice": false, "zero": false}, "axis": null},
        "y": {"field": "age", "type": "quantitative", "scale": {"domain": [0, 16000], "reverse": true, "nice": false, "zero": false}, "axis": null},
        "text": {"field": "t"}
      }
    },
    {
      "data": {"name": "ann_g"},
      "mark": {"type": "text", "align": "left", "baseline": "middle", "font": "Liberation Serif", "fontSize": 19},
      "encoding": {
        "x": {"field": "v", "type": "quantitative", "scale": {"domain": [-21, -9], "range": [614, 792], "nice": false, "zero": false}, "axis": null},
        "y": {"field": "age", "type": "quantitative", "scale": {"domain": [0, 16000], "reverse": true, "nice": false, "zero": false}, "axis": null},
        "text": {"field": "t"}
      }
    },
    {
      "data": {"name": "ann_h"},
      "mark": {"type": "text", "align": "left", "baseline": "middle", "font": "Liberation Serif", "fontSize": 19},
      "encoding": {
        "x": {"field": "v", "type": "quantitative", "scale": {"domain": [-44, -32], "range": [760, 936], "nice": false, "zero": false}, "axis": null},
        "y": {"field": "age", "type": "quantitative", "scale": {"domain": [0, 16000], "reverse": true, "nice": false, "zero": false}, "axis": null},
        "text": {"field": "t"}
      }
    }
  ]
}
